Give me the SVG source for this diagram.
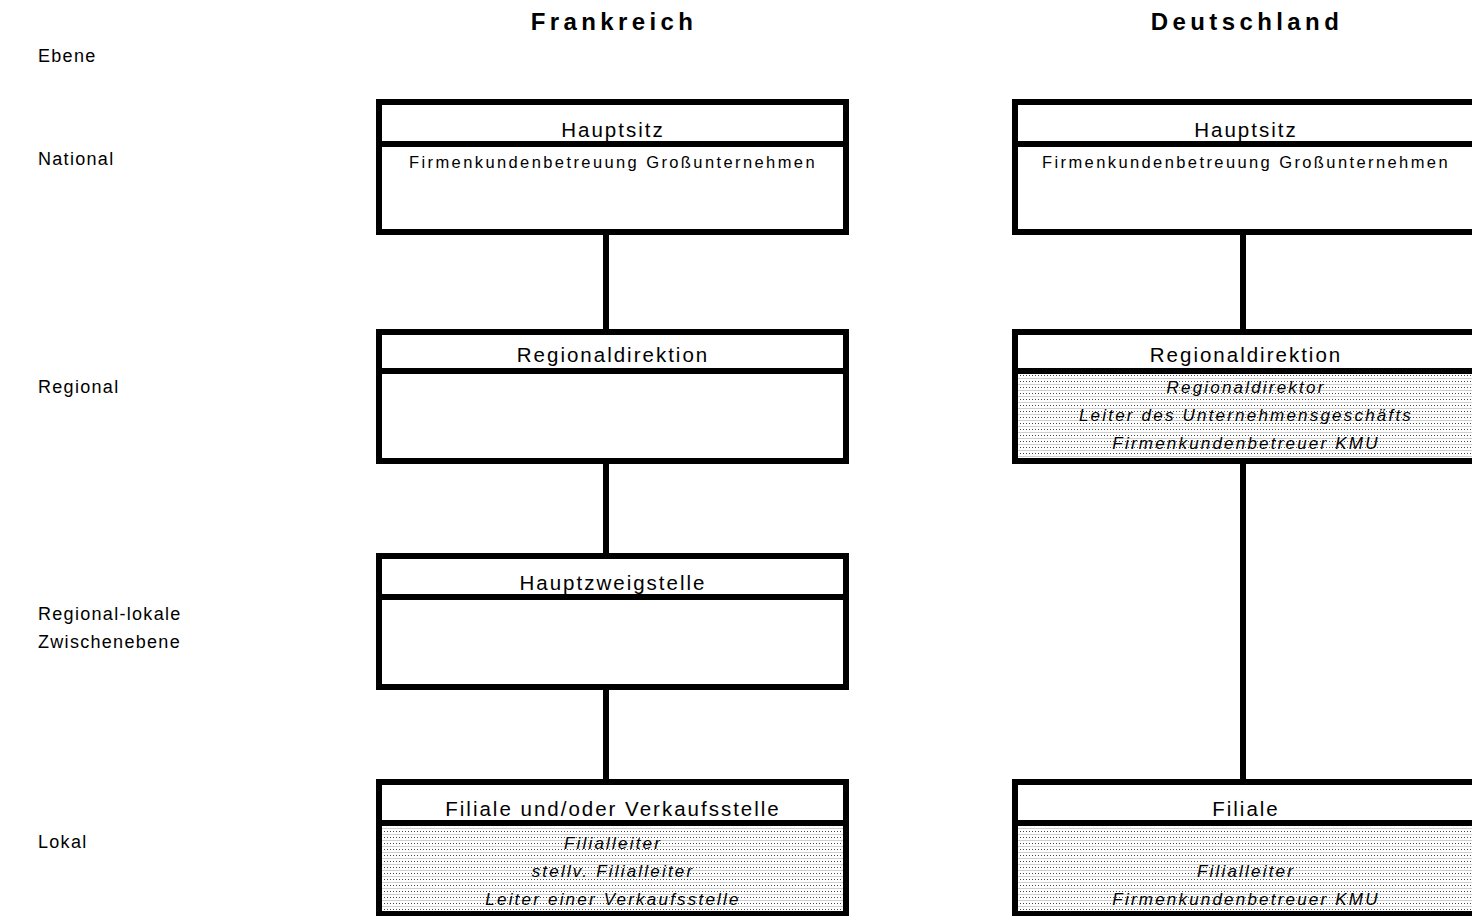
<svg xmlns="http://www.w3.org/2000/svg" width="1472" height="916" viewBox="0 0 1472 916">
<style>
text{font-family:"Liberation Sans",Arial,sans-serif;fill:#000}
.title{font-size:24px;font-weight:bold;letter-spacing:4.4px;text-anchor:middle}
.lvl{font-size:18px;letter-spacing:1.3px}
.hd{font-size:20.5px;letter-spacing:2px;text-anchor:middle}
.sub{font-size:16.5px;letter-spacing:2.4px;text-anchor:middle}
.it{font-size:17px;font-style:italic;letter-spacing:2.2px;text-anchor:middle}
.box{fill:#fff;stroke:#000;stroke-width:6}
.shade{fill:url(#dots)}
.div{stroke:#000;stroke-width:6}
.con{stroke:#000;stroke-width:6;fill:none}
</style>
<defs>
<pattern id="dots" x="0" y="0" width="3" height="6" patternUnits="userSpaceOnUse">
<rect width="3" height="6" fill="#fff"/>
<rect x="0" y="0" width="3" height="1" fill="#cfcfcf"/>
<rect x="0" y="3" width="1" height="1" fill="#444"/>
</pattern>
</defs>
<rect width="1472" height="916" fill="#fff"/>
<text class="title" x="614" y="30">Frankreich</text>
<text class="title" x="1247" y="30">Deutschland</text>
<g id="levels">
<text class="lvl" x="38" y="62">Ebene</text>
<text class="lvl" x="38" y="165">National</text>
<text class="lvl" x="38" y="393">Regional</text>
<text class="lvl" x="38" y="620">Regional-lokale</text>
<text class="lvl" x="38" y="648">Zwischenebene</text>
<text class="lvl" x="38" y="848">Lokal</text>
</g>
<g id="connectors">
<line class="con" x1="606" y1="232" x2="606" y2="332"/>
<line class="con" x1="606" y1="461" x2="606" y2="556"/>
<line class="con" x1="606" y1="687" x2="606" y2="782"/>
<line class="con" x1="1243" y1="232" x2="1243" y2="332"/>
<line class="con" x1="1243" y1="461" x2="1243" y2="782"/>
</g>
<g id="fr-hauptsitz">
<rect class="box" x="379" y="102" width="467" height="130"/>
<line class="div" x1="379" y1="144" x2="846" y2="144"/>
<text class="hd" x="613" y="137">Hauptsitz</text>
<text class="sub" x="613" y="168">Firmenkundenbetreuung Großunternehmen</text>
</g>
<g id="fr-regional">
<rect class="box" x="379" y="332" width="467" height="129"/>
<line class="div" x1="379" y1="371" x2="846" y2="371"/>
<text class="hd" x="613" y="362">Regionaldirektion</text>
</g>
<g id="fr-hauptzweig">
<rect class="box" x="379" y="556" width="467" height="131"/>
<line class="div" x1="379" y1="597" x2="846" y2="597"/>
<text class="hd" x="613" y="590">Hauptzweigstelle</text>
</g>
<g id="fr-filiale">
<rect class="box" x="379" y="782" width="467" height="132"/>
<rect class="shade" x="382" y="826" width="461" height="85"/>
<line class="div" x1="379" y1="823" x2="846" y2="823"/>
<text class="hd" x="613" y="816">Filiale und/oder Verkaufsstelle</text>
<text class="it" x="613" y="849">Filialleiter</text>
<text class="it" x="613" y="877">stellv. Filialleiter</text>
<text class="it" x="613" y="905">Leiter einer Verkaufsstelle</text>
</g>
<g id="de-hauptsitz">
<rect class="box" x="1015" y="102" width="467" height="130"/>
<line class="div" x1="1015" y1="144" x2="1482" y2="144"/>
<text class="hd" x="1246" y="137">Hauptsitz</text>
<text class="sub" x="1246" y="168">Firmenkundenbetreuung Großunternehmen</text>
</g>
<g id="de-regional">
<rect class="box" x="1015" y="332" width="467" height="129"/>
<rect class="shade" x="1018" y="374" width="461" height="84"/>
<line class="div" x1="1015" y1="371" x2="1482" y2="371"/>
<text class="hd" x="1246" y="362">Regionaldirektion</text>
<text class="it" x="1246" y="393">Regionaldirektor</text>
<text class="it" x="1246" y="421">Leiter des Unternehmensgeschäfts</text>
<text class="it" x="1246" y="449">Firmenkundenbetreuer KMU</text>
</g>
<g id="de-filiale">
<rect class="box" x="1015" y="782" width="467" height="132"/>
<rect class="shade" x="1018" y="826" width="461" height="85"/>
<line class="div" x1="1015" y1="823" x2="1482" y2="823"/>
<text class="hd" x="1246" y="816">Filiale</text>
<text class="it" x="1246" y="877">Filialleiter</text>
<text class="it" x="1246" y="905">Firmenkundenbetreuer KMU</text>
</g>
</svg>
